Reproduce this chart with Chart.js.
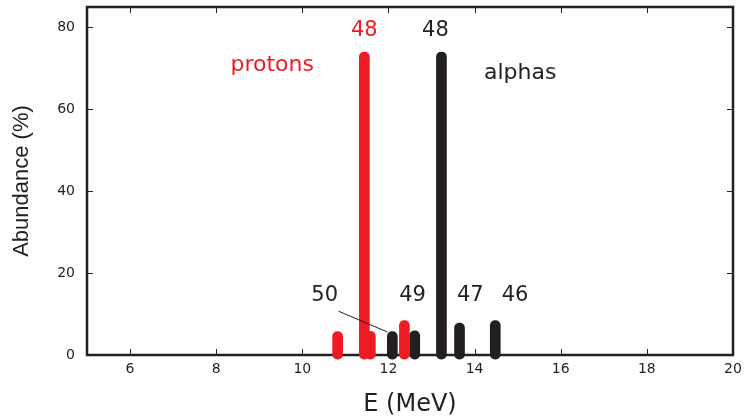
<!DOCTYPE html>
<html>
<head>
<meta charset="utf-8">
<script src="https://cdn.jsdelivr.net/npm/chart.js@4.4.1/dist/chart.umd.min.js"></script>
<style>
  body { margin: 0; background: #fff; }
</style>
</head>
<body>
<canvas id="abundance" width="745" height="417"></canvas>
<script>
// energies (MeV) and abundances (%)
var protonE = [10.82, 11.44, 11.58, 12.37];
var protonA = [5.7, 74, 5.8, 8.4];
var alphaE = [12.09, 12.61, 13.23, 13.65, 14.48];
var alphaA = [5.7, 5.9, 74, 7.8, 8.4];

var xTicks = [6, 8, 10, 12, 14, 16, 18, 20];
var yTicks = [0, 20, 40, 60, 80];

// text notes: [text, E, abundance, colour key]
var notes = [
    ["48", 11.44, 79.3, "red"],
    ["48", 13.09, 79.3, "ink"],
    ["protons", 9.30, 70.7, "red"],
    ["alphas", 15.06, 68.8, "ink"],
    ["50", 10.52, 14.4, "ink"],
    ["49", 12.56, 14.4, "ink"],
    ["47", 13.90, 14.4, "ink"],
    ["46", 14.94, 14.4, "ink"]
];
var leader = [[10.84, 10.7], [11.98, 5.6]];

var red = "#ed1c24";
var ink = "#231f20";

function pts(xs, ys) {
    return xs.map(function(v, i) { return {x: v, y: ys[i]}; });
}

var framePlugin = {
    id: 'frame',
    beforeDatasetsDraw: function(chart) {
        var ctx = chart.ctx, a = chart.chartArea;
        var x = chart.scales.x, y = chart.scales.y;
        ctx.save();
        ctx.strokeStyle = ink;
        ctx.lineWidth = 1;
        ctx.beginPath();
        xTicks.forEach(function(v) {
            var px = Math.round(x.getPixelForValue(v)) + 0.5;
            ctx.moveTo(px, a.bottom); ctx.lineTo(px, a.bottom - 6);
            ctx.moveTo(px, a.top); ctx.lineTo(px, a.top + 6);
        });
        yTicks.forEach(function(v) {
            var py = Math.round(y.getPixelForValue(v)) + 0.5;
            ctx.moveTo(a.left, py); ctx.lineTo(a.left + 6, py);
            ctx.moveTo(a.right, py); ctx.lineTo(a.right - 6, py);
        });
        ctx.stroke();
        ctx.lineWidth = 2.5;
        ctx.strokeRect(a.left, a.top, a.right - a.left, a.bottom - a.top);
        ctx.restore();
    },
    afterDraw: function(chart) {
        var ctx = chart.ctx;
        var x = chart.scales.x, y = chart.scales.y;
        ctx.save();
        ctx.textAlign = 'center';
        ctx.textBaseline = 'middle';
        notes.forEach(function(n) {
            ctx.fillStyle = n[3] === 'red' ? red : ink;
            ctx.font = (n[0].length > 2 ? '22px' : '21px') + ' "DejaVu Sans"';
            ctx.fillText(n[0], x.getPixelForValue(n[1]), y.getPixelForValue(n[2]));
        });
        ctx.strokeStyle = ink;
        ctx.lineWidth = 1;
        ctx.beginPath();
        ctx.moveTo(x.getPixelForValue(leader[0][0]), y.getPixelForValue(leader[0][1]));
        ctx.lineTo(x.getPixelForValue(leader[1][0]), y.getPixelForValue(leader[1][1]));
        ctx.stroke();
        ctx.restore();
    }
};

var ctx = document.getElementById("abundance").getContext('2d');
var chart = new Chart(ctx, {
    type: 'bar',
    data: {
        datasets: [{
            label: 'protons',
            data: pts(protonE, protonA),
            backgroundColor: red
        }, {
            label: 'alphas',
            data: pts(alphaE, alphaA),
            backgroundColor: ink
        }]
    },
    options: {
        responsive: false,
        animation: false,
        events: [],
        grouped: false,
        barThickness: 10,
        borderRadius: 5,
        borderSkipped: false,
        base: -1,
        clip: false,
        layout: { padding: { top: 7, right: 12, left: 0, bottom: 0 } },
        plugins: { legend: { display: false }, tooltip: { enabled: false } },
        scales: {
            x: {
                type: 'linear',
                min: 5, max: 20,
                offset: false,
                grid: { display: false, drawTicks: false },
                border: { display: false },
                afterBuildTicks: function(s) { s.ticks = xTicks.map(function(v) { return {value: v}; }); },
                afterFit: function(s) { s.height = 62; s.paddingLeft = 0; s.paddingRight = 0; },
                ticks: { padding: 6, color: ink, font: { family: 'DejaVu Sans', size: 14 } },
                title: {
                    display: true, text: 'E (MeV)', color: ink,
                    font: { family: 'DejaVu Sans', size: 24, lineHeight: 1 },
                    padding: { top: 0, bottom: 0 }
                }
            },
            y: {
                min: 0, max: 85,
                grid: { display: false, drawTicks: false },
                border: { display: false },
                afterBuildTicks: function(s) { s.ticks = yTicks.map(function(v) { return {value: v}; }); },
                afterFit: function(s) { s.width = 87; s.paddingTop = 0; s.paddingBottom = 0; },
                ticks: { padding: 12, color: ink, font: { family: 'DejaVu Sans', size: 14 } },
                title: {
                    display: true, text: 'Abundance (%)', color: ink,
                    font: { family: 'Liberation Sans', size: 22, lineHeight: 1 },
                    padding: { top: 11, bottom: 0 }
                }
            }
        }
    },
    plugins: [framePlugin]
});
</script>
</body>
</html>
